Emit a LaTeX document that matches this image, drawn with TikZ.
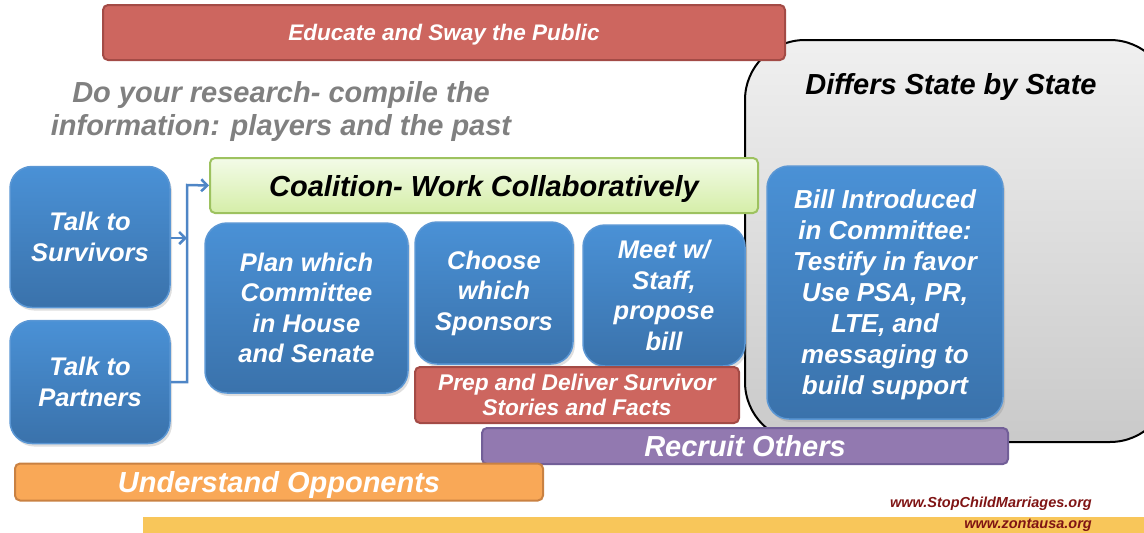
\documentclass[tikz,border=0pt]{standalone}
\usepackage{fontspec}
\setmainfont{Liberation Sans}
\usepackage{tikz}
\usetikzlibrary{positioning,arrows.meta,shadows}

\definecolor{bluetop}{HTML}{4A91D6}
\definecolor{bluebot}{HTML}{3A72AB}
\definecolor{blueedge}{HTML}{5B97D4}
\definecolor{linkblue}{HTML}{4F86C6}
\definecolor{redfill}{HTML}{CD665F}
\definecolor{rededge}{HTML}{A34B46}
\definecolor{greentop}{HTML}{F3FBE8}
\definecolor{greenbot}{HTML}{D5EEA8}
\definecolor{greenedge}{HTML}{9DC25F}
\definecolor{purplefill}{HTML}{9279B0}
\definecolor{purpleedge}{HTML}{725F98}
\definecolor{orangefill}{HTML}{F9A857}
\definecolor{orangeedge}{HTML}{C98142}
\definecolor{yellowbar}{HTML}{F8C65A}
\definecolor{weblink}{HTML}{7F1414}

\begin{document}
\begin{tikzpicture}[x=1pt,y=-1pt,
  bluebox/.style={draw=blueedge, line width=1.5pt, rounded corners=22pt,
    top color=bluetop, bottom color=bluebot, text=white, align=center,
    inner sep=0pt, font=\bfseries\itshape\fontsize{25.5}{30.5}\selectfont,
    drop shadow={opacity=0.25, shadow xshift=2pt, shadow yshift=-3pt}},
  band/.style={line width=2pt, rounded corners=5pt, text=white, align=center,
    inner sep=0pt, text depth=0pt, font=\bfseries\itshape\fontsize{29}{30}\selectfont},
  link/.style={draw=linkblue, line width=2.5pt},
  site/.style={anchor=east, inner sep=0pt, text=weblink, font=\bfseries\itshape\fontsize{14.5}{16}\selectfont}
  ]
  \clip (0,0) rectangle (1144,533);
  % background pieces
  \fill[yellowbar] (143,517) rectangle (1144,533);
  \draw[line width=2pt, rounded corners=60pt, top color=gray!12, bottom color=gray!42]
    (745,40) rectangle (1170,442);
  \node[font=\bfseries\itshape\fontsize{29}{30}\selectfont] (state) at (951,87) {Differs State by State};
  \node[band, draw=rededge, fill=redfill, minimum width=682pt, minimum height=55pt,
    font=\bfseries\itshape\fontsize{22.5}{25}\selectfont] (public) at (444,32.5) {Educate and Sway the Public};
  \node[align=center, text=gray, font=\bfseries\itshape\fontsize{29}{33}\selectfont] (research) at (281,112)
    {Do your research- compile the\\information: players and the past};

  % left column and coalition
  \node[bluebox, minimum width=160pt, minimum height=141pt] (survivors) at (90,237) {Talk to\\Survivors};
  \node[bluebox, minimum width=160pt, minimum height=123pt] (partners) at (90,382) {Talk to\\Partners};
  \node[band, draw=greenedge, top color=greentop, bottom color=greenbot, text=black,
    minimum width=548pt, minimum height=55pt] (coalition) at (484,185.5) {Coalition- Work Collaboratively};

  \node[bluebox, minimum width=203pt, minimum height=170pt] (plan) at (306.5,308) {Plan which\\Committee\\in House\\and Senate};
  \node[bluebox, minimum width=158pt, minimum height=142pt] (choose) at (494,293) {Choose\\which\\Sponsors};
  \node[bluebox, minimum width=162pt, minimum height=141pt] (meet) at (664,295.5) {Meet w/\\Staff,\\propose\\bill};
  \node[bluebox, minimum width=236pt, minimum height=253pt, text depth=0pt,
    font=\bfseries\itshape\fontsize{26}{31}\selectfont] (bill) at (885,292.5)
    {Bill Introduced\\in Committee:\\Testify in favor\\Use PSA, PR,\\LTE, and\\messaging to\\build support};

  \node[band, draw=rededge, fill=redfill, minimum width=324pt, minimum height=56pt, text depth=,
    font=\bfseries\itshape\fontsize{22.7}{25}\selectfont] (prep) at (577,395) {Prep and Deliver Survivor\\Stories and Facts};
  \node[band, draw=purpleedge, fill=purplefill, minimum width=526pt, minimum height=36pt] (recruit) at (745,446) {Recruit Others};
  \node[band, draw=orangeedge, fill=orangefill, minimum width=528pt, minimum height=37pt] (opponents) at (279,482) {Understand Opponents};

  % connectors
  \coordinate (bend) at (187,185);
  \draw[link, -{Straight Barb[length=6pt,width=12pt]}] (partners.east) -| (bend) -- (coalition.west);
  \draw[link, -{Straight Barb[length=6pt,width=12pt]}] (survivors.east) ++(0,1) -- (187,238);

  \node[site] (site1) at (1092,504) {www.StopChildMarriages.org};
  \node[site] (site2) at (1092,525) {www.zontausa.org};
\end{tikzpicture}
\end{document}
